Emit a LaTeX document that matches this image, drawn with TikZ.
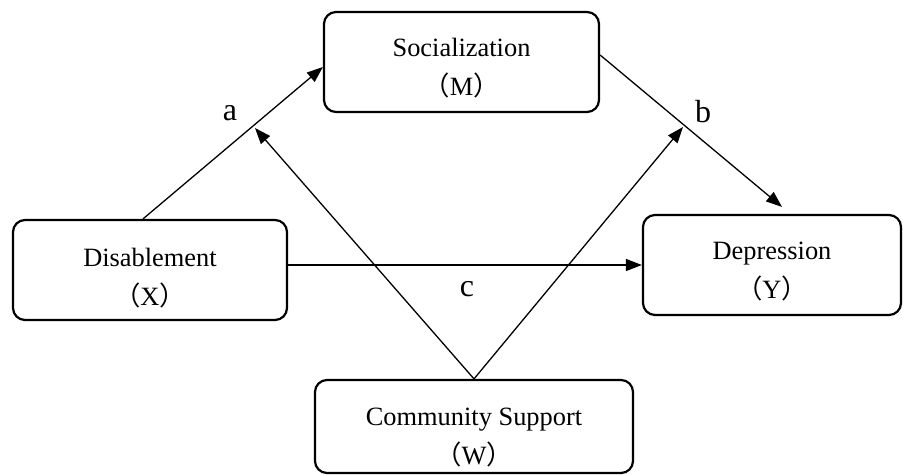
\documentclass[tikz,border=0pt]{standalone}
\usepackage{fontspec}
\setmainfont{Liberation Serif}
\newfontfamily\cjk{Noto Sans CJK SC}
\usetikzlibrary{arrows.meta}

\tikzset{
  box/.style={draw, line width=1.1pt, rounded corners=6pt, align=center,
    inner sep=0pt, text height=35pt, font=\fontsize{13.2}{19.5}\selectfont},
  link/.style={line width=0.65pt, -{Triangle[length=8pt,width=6pt]}},
  tag/.style={inner sep=0pt, font=\fontsize{16}{16}\selectfont},
}
% full-width brackets round the variable letter
\newcommand{\varname}[1]{{\cjk （}#1{\cjk ）}}

\begin{document}
\begin{tikzpicture}[x=0.5pt,y=-0.5pt]
  \useasboundingbox (0,0) rectangle (903,475);

  \node[box, minimum width=137.5pt, minimum height=50pt] (M) at (461.5,62)  {Socialization\\\varname{M}};
  \node[box, minimum width=137pt,   minimum height=50pt, text height=37pt] (X) at (150,270) {Disablement\\\varname{X}};
  \node[box, minimum width=129pt,   minimum height=50pt] (Y) at (772,265)   {Depression\\\varname{Y}};
  \node[box, minimum width=159pt,   minimum height=46.5pt, text height=39.5pt] (W) at (474,426.5) {Community Support\\\varname{W}};

  % points where the moderator meets paths a and b
  \coordinate (pa) at (255,128);
  \coordinate (pb) at (683,127);

  \draw[link] ([xshift=-3.5pt]X.north) -- ([yshift=-2.5pt]M.west);
  \draw[link] ([yshift=3.5pt]M.east) -- ([xshift=5pt,yshift=3.5pt]Y.north);
  \draw[link] ([yshift=2.5pt]X.east) -- (Y.west);
  \draw[link] (W.north) -- (pa);
  \draw[link] (W.north) -- (pb);

  \node[tag] (la) at (230,113) {a};
  \node[tag] (lb) at (703,112) {b};
  \node[tag] (lc) at (467,289) {c};
\end{tikzpicture}
\end{document}
